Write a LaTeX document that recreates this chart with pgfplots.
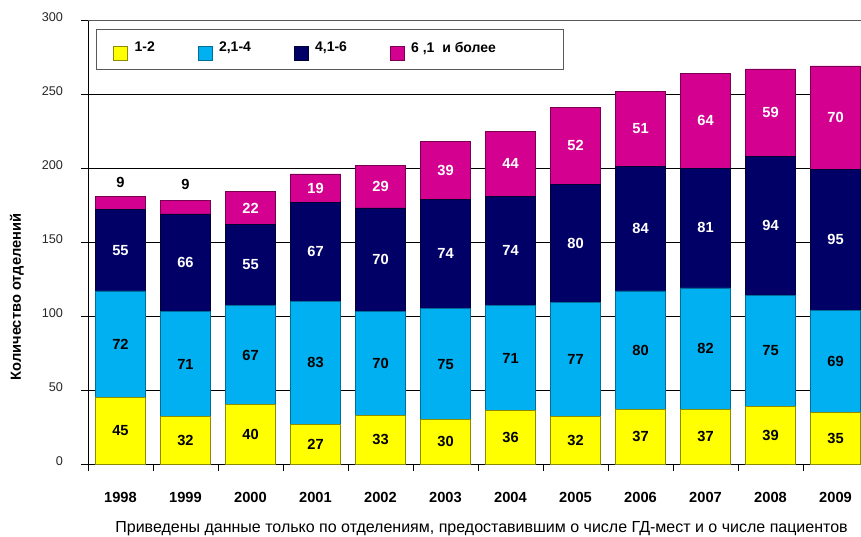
\documentclass[border=0pt]{standalone}
\usepackage{pgfplots}
\usepackage{pgfplotstable}
\pgfplotsset{compat=1.18}
\usepackage{fontspec}
\setmainfont{Liberation Sans}
\definecolor{cA}{HTML}{FFFF00}
\definecolor{cAe}{HTML}{8C8C00}
\definecolor{cB}{HTML}{00B0F0}
\definecolor{cBe}{HTML}{006E96}
\definecolor{cC}{HTML}{000066}
\definecolor{cCe}{HTML}{000033}
\definecolor{cD}{HTML}{D4008F}
\definecolor{cDe}{HTML}{7A0052}
\pgfplotstableread{
x a b c d
0 45 72 55 9
1 32 71 66 9
2 40 67 55 22
3 27 83 67 19
4 33 70 70 29
5 30 75 74 39
6 36 71 74 44
7 32 77 80 52
8 37 80 84 51
9 37 82 81 64
10 39 75 94 59
11 35 69 95 70
}\datatable
\def\labellist{
 0/22.5/45/black,0/81/72/black,0/144.5/55/white,0/190/9/black,
 1/16/32/black,1/67.5/71/black,1/136/66/white,1/189/9/black,
 2/20/40/black,2/73.5/67/black,2/134.5/55/white,2/173/22/white,
 3/13.5/27/black,3/68.5/83/black,3/143.5/67/white,3/186.5/19/white,
 4/16.5/33/black,4/68/70/black,4/138/70/white,4/187.5/29/white,
 5/15/30/black,5/67.5/75/black,5/142/74/white,5/198.5/39/white,
 6/18/36/black,6/71.5/71/black,6/144/74/white,6/203/44/white,
 7/16/32/black,7/70.5/77/black,7/149/80/white,7/215/52/white,
 8/18.5/37/black,8/77/80/black,8/159/84/white,8/226.5/51/white,
 9/18.5/37/black,9/78/82/black,9/159.5/81/white,9/232/64/white,
 10/19.5/39/black,10/76.5/75/black,10/161/94/white,10/237.5/59/white,
 11/17.5/35/black,11/69.5/69/black,11/151.5/95/white,11/234/70/white}
\begin{document}
\begin{tikzpicture}
\clip (0,0) rectangle (645.75pt,402pt);
\begin{axis}[
  at={(66pt,54pt)}, anchor=south west,
  scale only axis, width=585pt, height=333pt,
  ybar stacked, bar width=0.77,
  enlargelimits=false,
  xmin=-0.5, xmax=11.5, ymin=0, ymax=300,
  axis x line*=bottom, axis y line*=left,
  axis line style={black, line width=0.75pt},
  xtick={-0.5,0.5,...,11.5}, xticklabels={},
  extra x ticks={0,1,...,11},
  extra x tick labels={\textbf{1998},\textbf{1999},\textbf{2000},\textbf{2001},\textbf{2002},\textbf{2003},\textbf{2004},\textbf{2005},\textbf{2006},\textbf{2007},\textbf{2008},\textbf{2009}},
  extra x tick style={major tick length=0pt, tick label style={font=\fontsize{11}{13}\selectfont, anchor=base, yshift=-28.5pt}},
  ytick={0,50,...,300},
  ymajorgrids, grid style={black, line width=0.75pt},
  tick align=outside, major tick length=5.25pt,
  tick style={black, line width=0.75pt},
  yticklabel style={font=\fontsize{9.5}{11}\selectfont, text=black!85, anchor=east, xshift=-10pt, yshift=2.5pt},
  /pgf/number format/assume math mode=true,
  legend columns=4,
  legend style={draw=none, fill=none, at={(0.032,0.9324)}, anchor=west, inner sep=0pt,
    font=\bfseries\fontsize{10.5}{12}\selectfont,
    nodes={inner xsep=5pt, yshift=2pt},
    /tikz/every even column/.append style={column sep=27pt}},
  legend image code/.code={\draw[#1,line width=0.6pt,yshift=-2pt] (0pt,-5.25pt) rectangle (10.5pt,5.25pt);},
]
\addplot[fill=cA, draw=cAe, line width=0.5pt] table[x=x,y=a]{\datatable};
\addplot[fill=cB, draw=cBe, line width=0.5pt] table[x=x,y=b]{\datatable};
\addplot[fill=cC, draw=cCe, line width=0.5pt] table[x=x,y=c]{\datatable};
\addplot[fill=cD, draw=cDe, line width=0.5pt] table[x=x,y=d]{\datatable};
\legend{1-2, {2,1-4}, {4,1-6}, {6 ,1\ \ и более}}
\draw[black!65, line width=0.75pt] (rel axis cs:0,1) -- (rel axis cs:1,1);
\draw[black!65, line width=0.75pt, fill=white] (rel axis cs:0.01154,0.9797) rectangle (rel axis cs:0.609,0.8874);
\foreach \xx/\yy/\lbl/\cc in \labellist {
  \edef\tmp{\noexpand\coordinate (p\xx-\lbl-\cc) at (axis cs:\xx,\yy);}
  \tmp
}
\end{axis}
\foreach \xx/\yy/\lbl/\cc in \labellist {
  \node[font=\bfseries\fontsize{11}{13}\selectfont, text=\cc] at (p\xx-\lbl-\cc) {\lbl};
}
\node[rotate=90, font=\bfseries\fontsize{11}{13}\selectfont] at (12.75pt,179.25pt) {Количество отделений};
\node[anchor=base east, font=\fontsize{12}{14}\selectfont, inner sep=0pt] at (636pt,3pt) {Приведены данные только по отделениям, предоставившим о числе ГД-мест и о числе пациентов};
\end{tikzpicture}
\end{document}
